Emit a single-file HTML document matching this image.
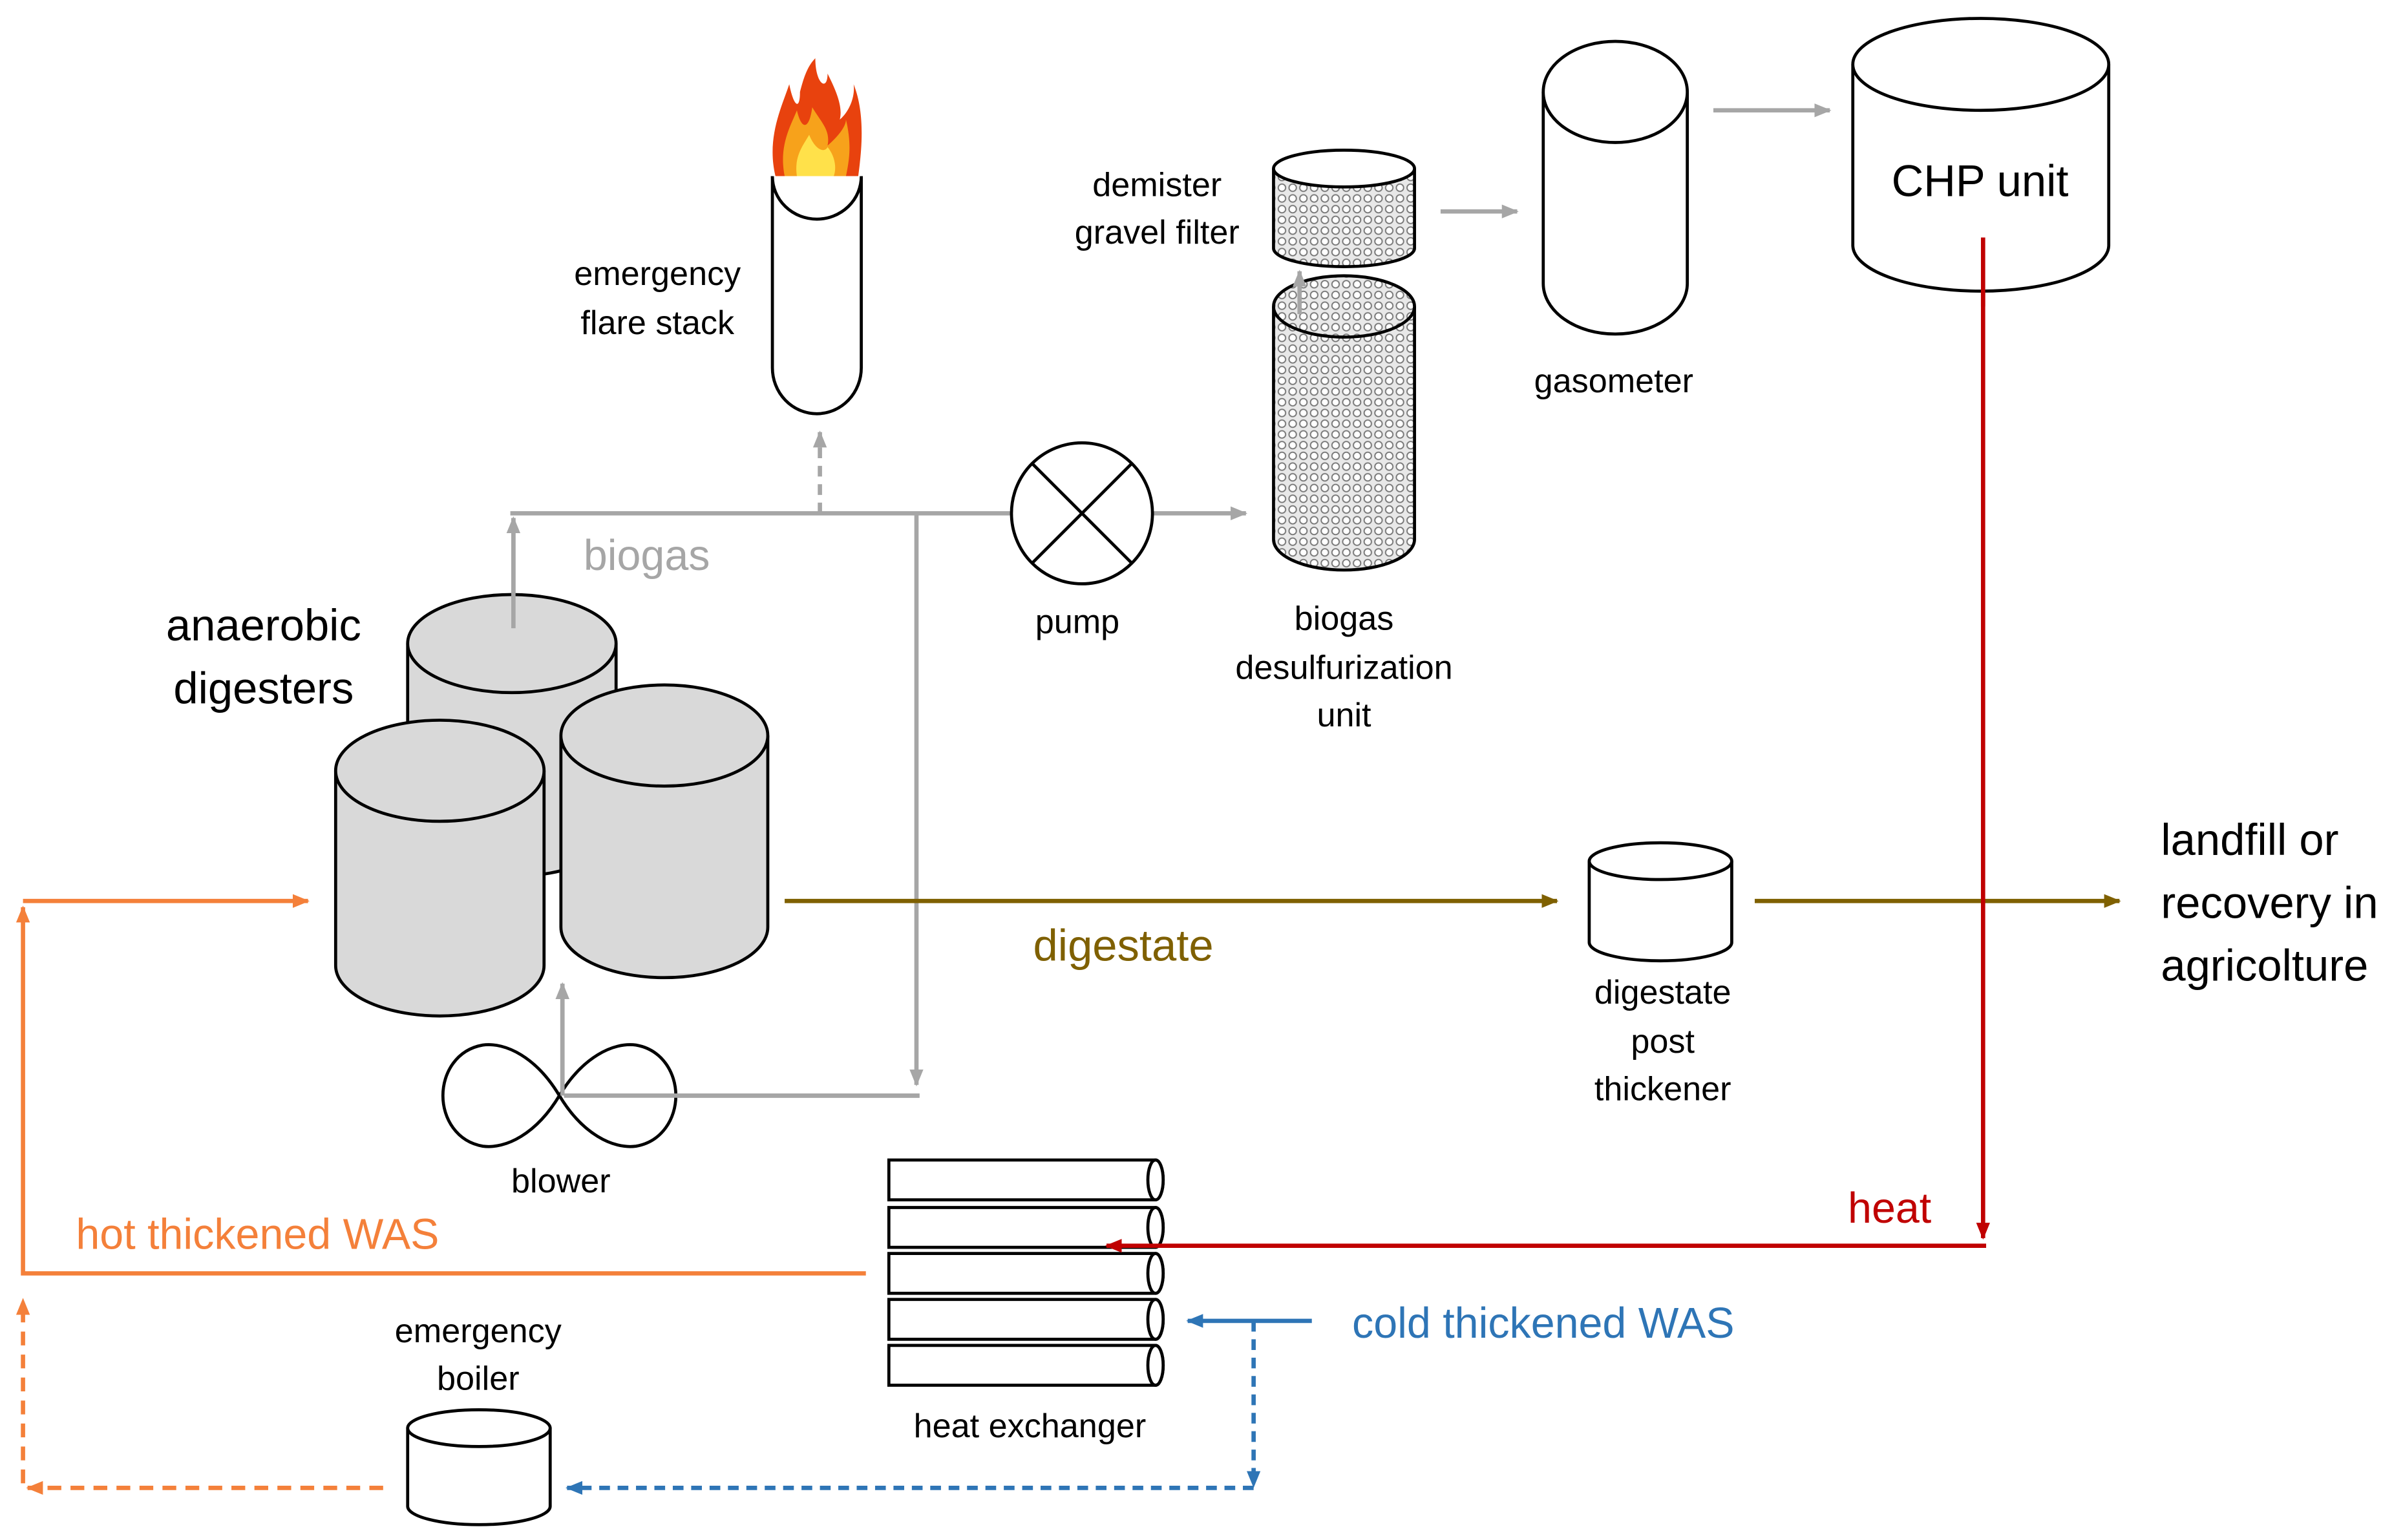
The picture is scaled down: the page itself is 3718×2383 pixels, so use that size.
<!DOCTYPE html>
<html><head><meta charset="utf-8"><style>
html,body{margin:0;padding:0;background:#fff}
svg{display:block}
text{font-family:"Liberation Sans",sans-serif}
</style></head><body>
<svg width="3718" height="2383" viewBox="0 0 1568 1005" xmlns="http://www.w3.org/2000/svg">
<defs>
<pattern id="dots" width="7" height="7" patternUnits="userSpaceOnUse">
<rect width="7" height="7" fill="#e8e8e8"/>
<circle cx="3.5" cy="3.5" r="2.4" fill="#fff" stroke="#777" stroke-width="0.8"/>
</pattern>
<marker id="ag" markerWidth="12" markerHeight="12" refX="10" refY="6" orient="auto" markerUnits="userSpaceOnUse"><path d="M0,1.5 L11,6 L0,10.5 z" fill="#a6a6a6"/></marker>
<marker id="ar" markerWidth="12" markerHeight="12" refX="10" refY="6" orient="auto" markerUnits="userSpaceOnUse"><path d="M0,1.5 L11,6 L0,10.5 z" fill="#c00000"/></marker>
<marker id="ao" markerWidth="12" markerHeight="12" refX="10" refY="6" orient="auto" markerUnits="userSpaceOnUse"><path d="M0,1.5 L11,6 L0,10.5 z" fill="#f4803a"/></marker>
<marker id="ab" markerWidth="12" markerHeight="12" refX="10" refY="6" orient="auto" markerUnits="userSpaceOnUse"><path d="M0,1.5 L11,6 L0,10.5 z" fill="#2e75b6"/></marker>
<marker id="ad" markerWidth="12" markerHeight="12" refX="10" refY="6" orient="auto" markerUnits="userSpaceOnUse"><path d="M0,1.5 L11,6 L0,10.5 z" fill="#7f6000"/></marker>
</defs>
<g fill="none" stroke-width="2.8">
<g stroke="#a6a6a6">
<line x1="335" y1="410" x2="335" y2="338" marker-end="url(#ag)"/>
<line x1="333" y1="335" x2="813" y2="335" marker-end="url(#ag)"/>
<line x1="535" y1="335" x2="535" y2="282" stroke-dasharray="7,5" marker-end="url(#ag)"/>
<line x1="598" y1="335" x2="598" y2="708" marker-end="url(#ag)"/>
<line x1="600" y1="715" x2="368" y2="715"/>
<line x1="367" y1="715" x2="367" y2="642" marker-end="url(#ag)"/>
<line x1="940" y1="138" x2="990" y2="138" marker-end="url(#ag)"/>
<line x1="1118" y1="72" x2="1194" y2="72" marker-end="url(#ag)"/>
</g>
<g stroke="#7f6000">
<line x1="512" y1="588" x2="1016" y2="588" marker-end="url(#ad)"/>
<line x1="1145" y1="588" x2="1383" y2="588" marker-end="url(#ad)"/>
</g>
<g stroke="#c00000">
<line x1="1294" y1="155" x2="1294" y2="808" marker-end="url(#ar)"/>
</g>
<g stroke="#f4803a">
<polyline points="565,831 15,831 15,592" marker-end="url(#ao)"/>
<line x1="15" y1="588" x2="201" y2="588" marker-end="url(#ao)"/>
<line x1="250" y1="971" x2="18" y2="971" stroke-dasharray="9,6" marker-end="url(#ao)"/>
<line x1="15" y1="968" x2="15" y2="848" stroke-dasharray="9,6" marker-end="url(#ao)"/>
</g>
<g stroke="#2e75b6">
<line x1="818" y1="862" x2="818" y2="970" stroke-dasharray="7,5" marker-end="url(#ab)"/>
<line x1="818" y1="971" x2="370" y2="971" stroke-dasharray="7,5" marker-end="url(#ab)"/>
</g>
</g>
<!-- flame -->
<path d="M506,115 C500,90 510,70 515,55 C518,70 522,72 522,60 C525,48 528,42 532,38 C532,55 540,60 540,48 C546,60 550,70 548,78 C555,72 558,62 557,55 C565,75 562,100 560,115 Z" fill="#e8420e"/>
<path d="M512,115 C508,95 516,82 520,72 C523,85 528,85 530,70 C536,80 542,85 540,95 C548,88 552,82 552,78 C556,95 554,105 552,115 Z" fill="#f7a21b"/>
<path d="M520,115 C518,102 524,95 528,88 C532,98 538,100 540,96 C545,102 546,110 544,115 Z" fill="#ffe14a"/>
<g stroke="#000" stroke-width="2" fill="#fff">
<path d="M504,115 L504,240 A29,30 0 0 0 562,240 L562,115"/>
<path d="M504,115 A29,28 0 0 0 562,115" />
</g>
<g stroke="#000" stroke-width="2" fill="none">
<circle cx="706" cy="335" r="46" fill="#fff"/>
<line x1="673" y1="302" x2="739" y2="368"/><line x1="739" y1="302" x2="673" y2="368"/>
</g>
<g stroke="#000" stroke-width="2">
<path d="M831,200 L831,352 A46,20 0 0 0 923,352 L923,200" fill="url(#dots)"/>
<ellipse cx="877" cy="200" rx="46" ry="20" fill="url(#dots)"/>
<path d="M831,110 L831,162 A46,12 0 0 0 923,162 L923,110" fill="url(#dots)"/>
<ellipse cx="877" cy="110" rx="46" ry="12" fill="#fff"/>
</g>
<line x1="848" y1="205" x2="848" y2="177" stroke="#a6a6a6" stroke-width="2.8" marker-end="url(#ag)"/>
<g stroke="#000" stroke-width="2" fill="#fff">
<path d="M1007,60 L1007,185 A47,33 0 0 0 1101,185 L1101,60"/>
<ellipse cx="1054" cy="60" rx="47" ry="33"/>
<path d="M1209,42 L1209,160 A83.5,30 0 0 0 1376,160 L1376,42"/>
<ellipse cx="1292.5" cy="42" rx="83.5" ry="30"/>
<path d="M1037,562 L1037,615 A46.5,12 0 0 0 1130,615 L1130,562"/>
<ellipse cx="1083.5" cy="562" rx="46.5" ry="12"/>
<path d="M266,932 L266,983 A46.5,12 0 0 0 359,983 L359,932"/>
<ellipse cx="312.5" cy="932" rx="46.5" ry="12"/>
</g>
<line x1="1294" y1="155" x2="1294" y2="200" stroke="#c00000" stroke-width="2.8"/>
<g stroke="#000" stroke-width="2" fill="#d9d9d9">
<path d="M266,420 L266,540 A68,32 0 0 0 402,540 L402,420"/>
<ellipse cx="334" cy="420" rx="68" ry="32"/>
<path d="M366,480 L366,605 A67.5,33 0 0 0 501,605 L501,480"/>
<ellipse cx="433.5" cy="480" rx="67.5" ry="33"/>
<path d="M219,503 L219,630 A68,33 0 0 0 355,630 L355,503"/>
<ellipse cx="287" cy="503" rx="68" ry="33"/>
</g>
<line x1="335" y1="410" x2="335" y2="338" stroke="#a6a6a6" stroke-width="2.8" marker-end="url(#ag)"/>
<!-- blower -->
<path d="M365,715 C350,690 330,680 315,682 C298,685 289,700 289,715 C289,730 298,745 315,748 C330,750 350,740 365,715 C380,690 400,680 415,682 C432,685 441,700 441,715 C441,730 432,745 415,748 C400,750 380,740 365,715 Z" fill="#fff" stroke="#000" stroke-width="2"/>
<line x1="600" y1="715" x2="368" y2="715" stroke="#a6a6a6" stroke-width="2.8"/>
<line x1="367" y1="715" x2="367" y2="642" stroke="#a6a6a6" stroke-width="2.8" marker-end="url(#ag)"/>
<g stroke="#000" stroke-width="2" fill="#fff">
<path d="M580,757 L754,757 A5,13 0 0 1 754,783 L580,783 Z"/><ellipse cx="754" cy="770" rx="5" ry="13"/>
<path d="M580,788 L754,788 A5,13 0 0 1 754,814 L580,814 Z"/><ellipse cx="754" cy="801" rx="5" ry="13"/>
<path d="M580,818 L754,818 A5,13 0 0 1 754,844 L580,844 Z"/><ellipse cx="754" cy="831" rx="5" ry="13"/>
<path d="M580,848 L754,848 A5,13 0 0 1 754,874 L580,874 Z"/><ellipse cx="754" cy="861" rx="5" ry="13"/>
<path d="M580,878 L754,878 A5,13 0 0 1 754,904 L580,904 Z"/><ellipse cx="754" cy="891" rx="5" ry="13"/>
</g>
<line x1="1296" y1="813" x2="722" y2="813" stroke="#c00000" stroke-width="2.8" marker-end="url(#ar)"/>
<line x1="856" y1="862" x2="775" y2="862" stroke="#2e75b6" stroke-width="2.8" marker-end="url(#ab)"/>
<g font-size="22" fill="#000" text-anchor="middle">
<text x="429" y="186">emergency</text><text x="429" y="218">flare stack</text>
<text x="755" y="128">demister</text><text x="755" y="159">gravel filter</text>
<text x="1053" y="256">gasometer</text>
<text x="703" y="413">pump</text>
<text x="877" y="411">biogas</text><text x="877" y="443">desulfurization</text><text x="877" y="474">unit</text>
<text x="1085" y="655">digestate</text><text x="1085" y="687">post</text><text x="1085" y="718">thickener</text>
<text x="366" y="778">blower</text>
<text x="312" y="876">emergency</text><text x="312" y="907">boiler</text>
<text x="672" y="938">heat exchanger</text>
</g>
<text x="1292" y="128" font-size="29" text-anchor="middle">CHP unit</text>
<text x="172" y="418" font-size="29" text-anchor="middle">anaerobic</text>
<text x="172" y="459" font-size="29" text-anchor="middle">digesters</text>
<text x="422" y="372" font-size="28" fill="#a6a6a6" text-anchor="middle">biogas</text>
<text x="733" y="627" font-size="29" fill="#7f6000" text-anchor="middle">digestate</text>
<text x="1233" y="798" font-size="28" fill="#c00000" text-anchor="middle">heat</text>
<text x="168" y="815" font-size="28" fill="#f4803a" text-anchor="middle">hot thickened WAS</text>
<text x="1007" y="873" font-size="28" fill="#2e75b6" text-anchor="middle">cold thickened WAS</text>
<g font-size="29"><text x="1410" y="558">landfill or</text><text x="1410" y="599">recovery in</text><text x="1410" y="640">agricolture</text></g>
</svg>
</body></html>
